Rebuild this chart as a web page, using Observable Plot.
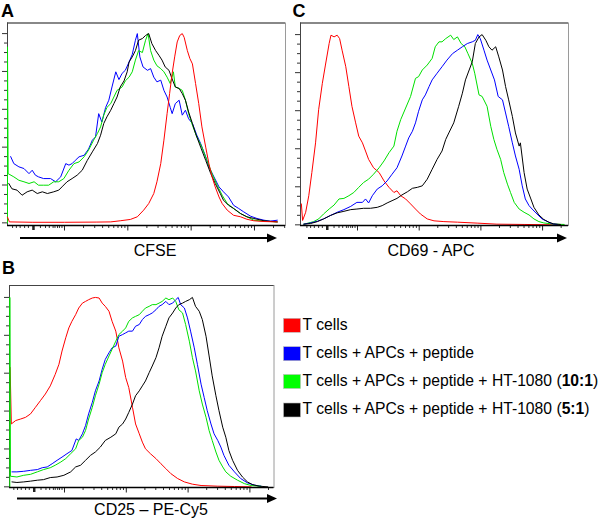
<!DOCTYPE html>
<html><head><meta charset="utf-8">
<script src="https://cdn.jsdelivr.net/npm/d3@7"></script>
<script src="https://cdn.jsdelivr.net/npm/@observablehq/plot@0.6"></script>
<style>
body{margin:0;background:#fff;font-family:Arial,"Liberation Sans",sans-serif;}
#root{position:relative;width:600px;height:519px;overflow:hidden;background:#fff;}
.panel{position:absolute;}
#overlay{position:absolute;left:0;top:0;}
</style></head><body><div id="root"></div><script>
// ---------- DATA (x: log10 fluorescence, y: % of max) ----------
const seriesNames = ["T cells", "T cells + APCs + peptide", "T cells + APCs + peptide + HT-1080 (10:1)", "T cells + APCs + peptide + HT-1080 (5:1)"];
const legendPlain = ["T cells", "T cells + APCs + peptide", "T cells + APCs + peptide + HT-1080 (", "T cells + APCs + peptide + HT-1080 ("];
const legendBold = ["", "", "10:1", "5:1"];
const legendTail = ["", "", ")", ")"];
const panelLetters = ["A", "B", "C"];
const axisTitles = ["CFSE", "CD25 \u2013 PE-Cy5", "CD69 - APC"];

// Panel A: CFSE
const aRed = [[0.1,3],[0.13,0.5],[0.5,0.3],[1.0,0.3],[1.5,0.4],[1.73,0.5],[1.88,1.1],[2.04,1.8],[2.15,3.2],[2.25,6.7],[2.33,10.2],[2.41,15.5],[2.46,21.7],[2.52,31.3],[2.57,43.7],[2.62,57.7],[2.66,68.3],[2.7,79],[2.74,87.7],[2.78,95.6],[2.82,99],[2.86,100],[2.89,98],[2.94,91],[2.98,86.8],[3.02,84],[3.07,73.6],[3.12,63],[3.17,50.7],[3.23,40],[3.28,31.3],[3.33,24.3],[3.38,19],[3.44,13.7],[3.49,10.2],[3.57,6.7],[3.67,4],[3.78,3.2],[3.88,1.9],[3.99,1.1],[4.15,0.7],[4.36,0.5]];
const aBlue = [[0.15,35],[0.2,31.3],[0.28,29.6],[0.36,28.7],[0.44,26],[0.49,27.8],[0.54,25.2],[0.59,24.3],[0.67,23.4],[0.78,23.4],[0.86,21.7],[0.94,24.3],[1.02,31.3],[1.07,30.5],[1.12,31.3],[1.17,33],[1.23,34.9],[1.31,35.7],[1.38,39],[1.44,43.7],[1.49,45.4],[1.54,57.7],[1.59,53.3],[1.65,61],[1.7,64.8],[1.75,71.8],[1.81,79.8],[1.86,75.7],[1.91,79],[1.96,80.6],[2.02,85],[2.07,89],[2.12,96.5],[2.15,100],[2.19,87.7],[2.24,82.4],[2.31,80.6],[2.36,81.5],[2.41,77],[2.46,74.5],[2.52,75.4],[2.57,70],[2.62,66.5],[2.67,61],[2.7,57.7],[2.75,63],[2.81,64.8],[2.86,56.9],[2.91,59.5],[2.96,55],[3.02,52.5],[3.09,46.3],[3.15,41.9],[3.23,34.9],[3.28,29.6],[3.36,24.3],[3.44,19],[3.51,16.4],[3.59,13.7],[3.67,9.3],[3.75,7.6],[3.83,5.8],[3.94,3.5],[4.04,2.3],[4.15,1.4],[4.25,0.9],[4.36,1.4]];
const aGreen = [[0.1,0],[0.1,93],[0.11,26],[0.2,24.3],[0.28,22.5],[0.36,21.7],[0.44,20.8],[0.52,21.7],[0.59,19.9],[0.67,19.9],[0.75,19.9],[0.83,21.7],[0.91,21.7],[0.99,23.4],[1.07,27.8],[1.15,31.3],[1.23,32.2],[1.31,34.9],[1.38,38.4],[1.46,43.7],[1.52,47.2],[1.57,50.7],[1.62,56.9],[1.67,61],[1.73,63],[1.78,66.5],[1.83,70],[1.91,71.8],[1.96,75],[2.02,77],[2.07,79.8],[2.12,86],[2.17,91],[2.23,90],[2.28,96.5],[2.32,100],[2.36,91],[2.41,86],[2.46,83],[2.52,81.5],[2.57,79.8],[2.62,77],[2.67,73.6],[2.72,79.8],[2.75,71.8],[2.81,71],[2.86,70],[2.91,64.8],[2.96,57.7],[3.02,51.6],[3.09,45.4],[3.17,40],[3.25,33],[3.33,26],[3.41,19.9],[3.49,14.6],[3.57,10.2],[3.67,7.6],[3.78,4.9],[3.88,3.2],[3.99,1.4],[4.15,0.9],[4.36,0.5]];
const aBlack = [[0.12,20.8],[0.17,18],[0.25,17.3],[0.33,14.6],[0.41,16.4],[0.49,17.3],[0.57,15.5],[0.65,16.4],[0.73,15.5],[0.83,16.4],[0.91,17.3],[0.96,19],[1.04,21.7],[1.12,23.4],[1.2,25.2],[1.28,27.8],[1.36,33],[1.44,37.5],[1.52,41.9],[1.57,46.3],[1.62,52.5],[1.67,56],[1.73,59.5],[1.78,63],[1.83,66.5],[1.88,71.8],[1.94,75],[1.99,79.8],[2.02,85],[2.07,87.7],[2.12,91],[2.17,96.5],[2.23,97.4],[2.28,99],[2.33,100],[2.38,94.7],[2.44,91],[2.49,88.6],[2.54,86],[2.59,82.4],[2.65,80.6],[2.7,76],[2.75,71.8],[2.81,71],[2.86,68.3],[2.91,64.8],[2.96,58.6],[3.02,52.5],[3.07,47.2],[3.15,40],[3.23,33],[3.31,26],[3.38,20.8],[3.46,15.5],[3.51,12],[3.59,9.3],[3.67,7.6],[3.78,4.9],[3.88,3.2],[3.99,2.3],[4.15,1.1],[4.36,0.5]];

// Panel B: CD25
const bRed = [[0.12,63],[0.14,33.2],[0.21,35],[0.29,35.8],[0.37,36.7],[0.45,38.5],[0.53,42],[0.61,45.5],[0.69,49],[0.77,53.3],[0.85,59.4],[0.91,64.7],[0.96,71.7],[1.02,78.7],[1.07,83.9],[1.12,87.4],[1.18,90.9],[1.23,94.4],[1.29,97],[1.34,97.9],[1.39,98.8],[1.45,99.7],[1.5,100],[1.56,99.7],[1.61,97],[1.66,95.3],[1.72,92.7],[1.77,87.4],[1.83,82.2],[1.88,73.4],[1.94,66.4],[1.99,57.7],[2.04,52.4],[2.1,42],[2.15,33.2],[2.21,28],[2.26,23.6],[2.31,20.1],[2.39,17.5],[2.48,14.9],[2.56,12.2],[2.64,9.6],[2.72,7],[2.83,4.4],[2.94,2.6],[3.07,1.4],[3.21,0.7],[3.48,0.35],[3.75,0.17],[4.02,0]];
const bBlue = [[0.15,7.9],[0.23,7.9],[0.34,8.2],[0.45,8.7],[0.56,9.1],[0.64,10.1],[0.72,10.5],[0.8,12.2],[0.88,14],[0.96,15.7],[1.04,17.5],[1.12,19.2],[1.19,25.3],[1.23,24.5],[1.29,28],[1.34,32.3],[1.39,38.5],[1.45,44.6],[1.5,50.7],[1.56,55.9],[1.61,62.1],[1.66,67.3],[1.72,70.8],[1.77,73.4],[1.83,74.3],[1.88,79.5],[1.94,80.4],[1.99,81.3],[2.04,82.2],[2.1,82.2],[2.15,84.8],[2.21,85.7],[2.26,88.3],[2.31,90],[2.37,90.9],[2.42,91.8],[2.48,93.5],[2.53,95.3],[2.58,96.2],[2.64,97.9],[2.69,96.2],[2.75,97],[2.8,98.8],[2.84,100],[2.88,96.2],[2.94,94.4],[2.99,89.2],[3.04,82.2],[3.1,73.4],[3.15,64.7],[3.21,54.2],[3.26,47.2],[3.31,40.2],[3.37,33.2],[3.42,28],[3.48,24.5],[3.53,21],[3.58,16.6],[3.66,11.4],[3.75,7.9],[3.85,4.4],[3.96,2.1],[4.07,0.9],[4.18,0.35]];
const bGreen = [[0.115,0],[0.115,100],[0.125,5.6],[0.23,5.2],[0.34,6.1],[0.45,6.6],[0.56,7.9],[0.66,9.1],[0.77,10.1],[0.85,11.4],[0.94,13.1],[1.02,14.9],[1.1,17.5],[1.18,20.1],[1.23,24.5],[1.29,26.2],[1.34,29.7],[1.39,35.8],[1.45,42],[1.5,48.1],[1.56,54.2],[1.61,60.3],[1.66,64.7],[1.72,69.1],[1.77,72.6],[1.83,76.9],[1.88,80.4],[1.94,82.2],[1.99,83.9],[2.04,87.4],[2.1,89.2],[2.15,90],[2.21,90.9],[2.26,92.7],[2.31,94.4],[2.37,95.3],[2.42,96.2],[2.48,96.2],[2.53,97],[2.58,97.9],[2.64,99.7],[2.69,98.8],[2.75,99.7],[2.8,97.9],[2.85,93.5],[2.91,91.8],[2.96,85.7],[3.02,76.9],[3.07,68.2],[3.12,61.2],[3.18,50.7],[3.23,43.7],[3.29,36.7],[3.34,29.7],[3.39,24.5],[3.45,18.4],[3.5,14],[3.56,10.5],[3.61,7.9],[3.69,5.6],[3.8,3.5],[3.91,1.7],[4.02,0.7],[4.18,0.3]];
const bBlack = [[0.15,2.6],[0.23,2.3],[0.34,2.6],[0.45,3],[0.56,3.5],[0.66,3.8],[0.77,4.9],[0.88,5.2],[0.99,6.1],[1.1,7.9],[1.18,10.5],[1.26,11.4],[1.34,14],[1.42,16.6],[1.5,18.4],[1.58,21],[1.66,24.5],[1.75,26.2],[1.83,28],[1.88,31.5],[1.94,33.2],[1.99,35.8],[2.04,39.3],[2.1,43.7],[2.15,48.1],[2.21,50.7],[2.26,53.3],[2.31,55.9],[2.37,60.3],[2.42,63.8],[2.48,68.2],[2.53,73.4],[2.58,79.5],[2.64,84.8],[2.69,89.2],[2.75,91.8],[2.8,94.4],[2.85,96.2],[2.91,97],[2.96,97.9],[3.02,98.8],[3.07,100],[3.12,95.3],[3.18,92.7],[3.23,88.3],[3.29,79.5],[3.34,69.1],[3.39,58.6],[3.45,48.1],[3.5,40.2],[3.56,31.5],[3.61,26.2],[3.66,19.2],[3.72,14],[3.8,8.7],[3.88,5.2],[3.96,2.6],[4.04,1.2],[4.15,0.35],[4.29,0]];

// Panel C: CD69
const cRed = [[0.09,11],[0.11,2.3],[0.16,6.6],[0.21,15.3],[0.26,27.5],[0.32,43.1],[0.37,60.5],[0.43,74.4],[0.48,84],[0.54,95.3],[0.57,99.7],[0.62,98.8],[0.67,99.7],[0.71,97.9],[0.75,91.8],[0.81,83.1],[0.86,72.7],[0.91,62.3],[0.97,53.6],[1.02,46.6],[1.08,43.1],[1.13,38.8],[1.18,34.4],[1.26,30],[1.35,27.5],[1.43,23.1],[1.51,19.7],[1.59,17],[1.64,17.9],[1.7,15.3],[1.78,13.6],[1.86,11],[1.94,8.3],[2.02,5.7],[2.13,3.1],[2.24,2.1],[2.4,1.7],[2.62,1.4],[2.94,0.9],[3.26,0.35],[3.7,0.2],[4.24,0]];
const cBlue = [[0.13,0.35],[0.24,1],[0.35,1.9],[0.45,3.1],[0.56,4.9],[0.67,6.6],[0.78,8],[0.89,9.7],[0.99,11.8],[1.08,11.8],[1.13,13.6],[1.18,11.5],[1.24,15.3],[1.32,18.8],[1.4,20.5],[1.48,23.1],[1.56,26.6],[1.64,30],[1.72,36.2],[1.78,41.4],[1.83,45.7],[1.89,49.2],[1.94,53.6],[1.99,59.7],[2.05,65.7],[2.1,68.3],[2.16,72.7],[2.21,76.2],[2.29,79.7],[2.37,83.1],[2.45,86.6],[2.54,90],[2.62,91.8],[2.7,93.6],[2.78,95.3],[2.86,96.2],[2.91,97],[2.95,100],[2.99,97.9],[3.05,91.8],[3.1,86.6],[3.16,81.4],[3.22,76.2],[3.28,67.5],[3.35,65.7],[3.4,58.8],[3.45,51.8],[3.51,43.1],[3.56,36.2],[3.62,29.2],[3.67,20.5],[3.72,13.6],[3.78,10.1],[3.83,8.3],[3.91,5.7],[3.99,3.1],[4.08,1.7],[4.16,0.5],[4.24,0.2]];
const cGreen = [[0.13,0.35],[0.21,1],[0.29,1.7],[0.37,3.1],[0.45,5.7],[0.54,8.3],[0.62,10.4],[0.7,13.6],[0.78,13.9],[0.86,15.3],[0.94,17],[1.02,19.7],[1.1,22.3],[1.18,24],[1.26,26.6],[1.35,30],[1.43,33.6],[1.51,37.9],[1.59,41.4],[1.64,49.2],[1.7,55.3],[1.78,61.4],[1.86,67.5],[1.94,77],[1.99,77.9],[2.05,81.4],[2.13,84],[2.21,87.5],[2.26,93.6],[2.32,96.2],[2.37,96.2],[2.43,97.9],[2.51,99.7],[2.56,97.4],[2.62,98.8],[2.68,95.3],[2.74,93.6],[2.79,90],[2.86,84.9],[2.9,79.7],[2.97,68.3],[3.02,67.5],[3.1,62.3],[3.16,51.8],[3.21,44.9],[3.26,39.7],[3.32,34.4],[3.37,27.5],[3.43,21.4],[3.48,17],[3.54,11.8],[3.62,8.3],[3.7,6.6],[3.78,5.2],[3.86,3.1],[3.94,1.7],[4.02,1],[4.18,0.35],[4.35,0.2]];
const cBlack = [[0.13,0.35],[0.24,0.7],[0.35,1.7],[0.45,3.1],[0.56,4.9],[0.67,6.3],[0.78,7.1],[0.89,8],[0.99,8.3],[1.1,8.7],[1.21,8.7],[1.32,9.2],[1.4,10.1],[1.48,11.5],[1.56,12.7],[1.64,13.9],[1.72,15.7],[1.81,17.4],[1.89,19.2],[1.97,19.7],[2.05,20.5],[2.13,24],[2.21,29.2],[2.29,34.4],[2.37,38.8],[2.43,44.9],[2.48,48.3],[2.56,53.6],[2.64,62.3],[2.7,69.2],[2.75,76.2],[2.81,81.4],[2.86,85.7],[2.91,95.3],[2.97,98.8],[3.02,100],[3.08,97],[3.13,93.6],[3.18,91.8],[3.24,93.6],[3.29,88.3],[3.35,81.4],[3.4,72.7],[3.45,65.7],[3.51,57],[3.56,48.3],[3.62,41.4],[3.64,43.1],[3.7,27.5],[3.75,18.8],[3.81,13.6],[3.86,9.2],[3.94,5.2],[4.02,2.8],[4.1,1.4],[4.18,0.5],[4.29,0.2]];

// Axis tick values (log10 units and % of max)
const decades = [1, 2, 3, 4];
const decadeMultipliers = [2, 3, 4, 5, 6, 7, 8, 9];
const lowRangeTicks = [0.18, 0.24, 0.30, 0.37, 0.43, 0.62, 0.70, 0.76, 0.82, 0.85, 0.89, 0.92, 0.96];
const markerTick = [0.51];
const yMajorTicks = [0, 20, 40, 60, 80, 100];
const yMinorTicks = [5, 10, 15, 25, 30, 35, 45, 50, 55, 65, 70, 75, 85, 90, 95];

// ---------- STYLE / LAYOUT ----------
const lineColors = ["#ff0000", "#0000ff", "#00e000", "#000000"];
const swatchColors = ["#ff0000", "#0000ff", "#00ff00", "#000000"];

const panels = [
  {series: [aRed, aBlue, aGreen, aBlack], order: [1, 2, 3, 0], left: 0, top: 0, width: 290, height: 232,
   m: [22.5, 5, 7, 7], xDomain: [0.1, 4.49], yDomain: [-1.4, 105.6]},
  {series: [bRed, bBlue, bGreen, bBlack], order: [0, 1, 2, 3], left: 0, top: 262, width: 290, height: 232,
   m: [23, 16.5, 7, 9], xDomain: [0.11, 4.39], yDomain: [-0.35, 106.3]},
  {series: [cRed, cBlue, cGreen, cBlack], order: [0, 2, 1, 3], left: 290, top: 0, width: 290, height: 232,
   m: [22.5, 12, 7, 10], xDomain: [0.076, 4.42], yDomain: [-0.35, 106.1]}
];

const root = document.getElementById("root");

panels.forEach(p => {
  const [xmin, xmax] = p.xDomain;
  const minorX = decades.flatMap(d => [d - 1, d].flatMap(b => decadeMultipliers.map(k => b + Math.log10(k))))
    .filter((v, i, arr) => v > 1 && v < xmax && arr.indexOf(v) === i);
  const majorX = decades.filter(v => v < xmax);
  const blank = () => "";
  const marks = [
    Plot.frame({stroke: "#9a9a9a"}),
    Plot.ruleY([p.yDomain[1]], {stroke: "#444"}),
    Plot.ruleX([xmin], {stroke: "#444"}),
    Plot.axisY(yMinorTicks, {anchor: "left", tickSize: 3, tickFormat: blank, label: null, stroke: "#333"}),
    Plot.axisY(yMajorTicks, {anchor: "left", tickSize: 5, tickFormat: blank, label: null, stroke: "#333"}),
    Plot.axisX(lowRangeTicks.concat(minorX), {anchor: "bottom", tickSize: 3, tickFormat: blank, label: null, stroke: "#333"}),
    Plot.axisX(majorX, {anchor: "bottom", tickSize: 5.5, tickFormat: blank, label: null, stroke: "#222"}),
    Plot.axisX(markerTick, {anchor: "bottom", tickSize: 5, tickFormat: blank, label: null, stroke: "#222", strokeWidth: 2.5})
  ];
  p.order.forEach(i => {
    marks.push(Plot.line(p.series[i], {x: d => d[0], y: d => d[1], stroke: lineColors[i], strokeWidth: 1}));
  });
  marks.push(Plot.ruleY([p.yDomain[0]], {stroke: "#000", strokeWidth: 1.3}));
  const chart = Plot.plot({
    width: p.width, height: p.height,
    marginTop: p.m[0], marginRight: p.m[1], marginBottom: p.m[2], marginLeft: p.m[3],
    x: {type: "linear", domain: p.xDomain},
    y: {type: "linear", domain: p.yDomain},
    style: {background: "transparent", overflow: "visible"},
    marks
  });
  const holder = document.createElement("div");
  holder.className = "panel";
  holder.style.left = p.left + "px";
  holder.style.top = p.top + "px";
  holder.appendChild(chart);
  root.appendChild(holder);
});

// ---------- Decorations: panel letters, axis arrows and titles, legend ----------
const ov = d3.select(root).append("svg").attr("id", "overlay").attr("width", 600).attr("height", 519)
  .style("font-family", "Arial, 'Liberation Sans', sans-serif");

const letterPos = [[1, 16.5], [2, 274], [292.5, 16.5]];
panelLetters.forEach((t, i) => ov.append("text").attr("x", letterPos[i][0]).attr("y", letterPos[i][1])
  .attr("font-size", 18).attr("font-weight", "bold").text(t));

const arrows = [[20, 277, 238], [17, 277, 498.5], [308, 567, 238]];
arrows.forEach(([x1, x2, y]) => {
  ov.append("line").attr("x1", x1).attr("x2", x2 - 6).attr("y1", y).attr("y2", y).attr("stroke", "#000").attr("stroke-width", 2.2);
  ov.append("path").attr("d", `M${x2},${y}L${x2 - 10},${y - 4.5}L${x2 - 10},${y + 4.5}Z`).attr("fill", "#000");
});

const titlePos = [[155, 256], [151, 515], [431, 256]];
axisTitles.forEach((t, i) => ov.append("text").attr("x", titlePos[i][0]).attr("y", titlePos[i][1])
  .attr("text-anchor", "middle").attr("font-size", 16).text(t));

const swatchY = [318.3, 346.7, 374.5, 403];
const textY = [330.3, 358, 386, 414.3];
seriesNames.forEach((name, i) => {
  ov.append("rect").attr("x", 283.5).attr("y", swatchY[i]).attr("width", 17).attr("height", 14)
    .attr("fill", swatchColors[i]).attr("stroke", "#bbb").attr("stroke-width", 0.6);
  const t = ov.append("text").attr("x", 302.5).attr("y", textY[i]).attr("font-size", 15.7);
  t.append("tspan").text(legendPlain[i]);
  if (legendBold[i]) t.append("tspan").attr("font-weight", "bold").text(legendBold[i]);
  if (legendTail[i]) t.append("tspan").text(legendTail[i]);
});
</script></body></html>
